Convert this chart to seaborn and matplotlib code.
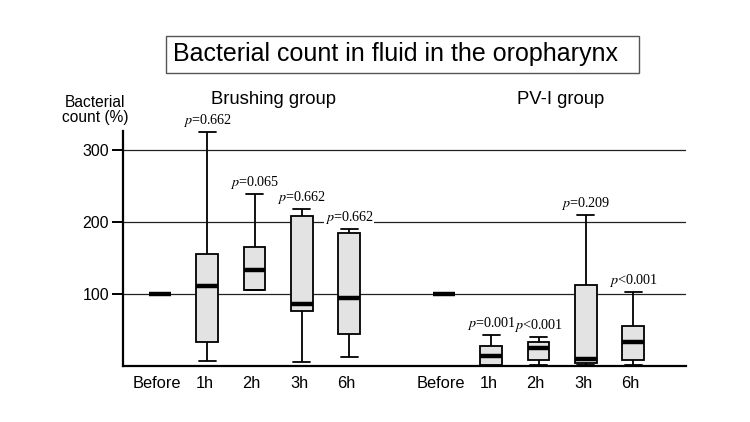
import matplotlib
matplotlib.use('Agg')
import matplotlib.pyplot as plt
from matplotlib.patches import Rectangle
import numpy as np
import pandas as pd
import seaborn as sns

# Values (five-number summaries, % of baseline)
times = ['Before', '1h', '2h', '3h', '6h']

brush_low = [100, 7, 105, 5.5, 12.5]
brush_q1 = [100, 34, 105, 76, 45]
brush_med = [100, 111.5, 133, 86, 94]
brush_q3 = [100, 155, 166, 208, 185]
brush_high = [100, 325, 239, 218, 190]
brush_p = [None, '=0.662', '=0.065', '=0.662', '=0.662']

pvi_low = [100, 0.5, 1.5, 2, 2]
pvi_q1 = [100, 1, 9, 4, 9]
pvi_med = [100, 13.5, 25.7, 10, 34]
pvi_q3 = [100, 27.5, 34, 112.6, 56]
pvi_high = [100, 43, 40, 210, 103]
pvi_p = [None, '=0.001', '<0.001', '=0.209', '<0.001']

y_ticks = [100, 200, 300]

# Build long table: five values per box give exactly these quartiles
rows = []
groups = [('Brushing', brush_low, brush_q1, brush_med, brush_q3, brush_high),
          ('PV-I', pvi_low, pvi_q1, pvi_med, pvi_q3, pvi_high)]
for name, lo, q1, med, q3, hi in groups:
    for i, t in enumerate(times):
        for v in (lo[i], q1[i], med[i], q3[i], hi[i]):
            rows.append({'slot': name + ' ' + t, 'value': v})
df = pd.DataFrame(rows)

order = ['Brushing ' + t for t in times] + [' '] + ['PV-I ' + t for t in times]
highs = brush_high + [None] + pvi_high
pvals = brush_p + [None] + pvi_p

sns.set_style('white')
plt.rcParams['font.family'] = ['Liberation Sans', 'DejaVu Sans']
plt.rcParams['mathtext.fontset'] = 'stix'
plt.rcParams['text.color'] = 'black'
plt.rcParams['xtick.color'] = 'black'
plt.rcParams['ytick.color'] = 'black'

fig = plt.figure(figsize=(7.5, 4.22), dpi=100)
ax = fig.add_axes([0.164, 0.1327, 0.751, 0.5578])

for y in y_ticks:
    ax.axhline(y, color='#222222', lw=0.9, zorder=0)

sns.boxplot(data=df, x='slot', y='value', order=order, whis=(0, 100),
            width=0.46, color='#e3e3e3', saturation=1, linecolor='black',
            linewidth=1.3, showfliers=False, capwidths=0.36,
            medianprops=dict(linewidth=3.2), ax=ax)

# p-value labels above each whisker
for i, (h, p) in enumerate(zip(highs, pvals)):
    if p is None:
        continue
    ax.annotate('$p$' + p, (i, h), xytext=(0, 2), textcoords='offset points',
                ha='center', va='bottom', fontsize=10.2, color='black',
                family=['Liberation Serif', 'DejaVu Serif'],
                bbox=dict(facecolor='white', edgecolor='none', pad=0.3),
                annotation_clip=False, zorder=5)

ax.set_xlim(-0.78, 11.12)
ax.set_ylim(0, 327)
ax.set_yticks(y_ticks)
ax.set_yticklabels([str(v) for v in y_ticks], fontsize=11.5)
ax.tick_params(axis='y', length=8, width=1.4, pad=2, left=True, colors='black')

slots = [i for i, s in enumerate(order) if s.strip()]
ax.set_xticks([s - 0.06 for s in slots])
ax.set_xticklabels(times + times, fontsize=11.8)
ax.tick_params(axis='x', length=0, pad=7, colors='black')
ax.set_xlabel('')
ax.set_ylabel('')

for s in ['top', 'right']:
    ax.spines[s].set_visible(False)
for s in ['left', 'bottom']:
    ax.spines[s].set_linewidth(1.6)
    ax.spines[s].set_color('black')

# Title box
fig.patches.append(Rectangle((0.2213, 0.827), 0.6307, 0.0877, transform=fig.transFigure,
                             facecolor='white', edgecolor='#555555', lw=1))
fig.text(0.2307, 0.871, 'Bacterial count in fluid in the oropharynx',
         ha='left', va='center', fontsize=18, color='black')

fig.text(0.365, 0.765, 'Brushing group', ha='center', va='center', fontsize=13.3, color='black')
fig.text(0.748, 0.765, 'PV-I group', ha='center', va='center', fontsize=13.3, color='black')
fig.text(0.127, 0.739, 'Bacterial\ncount (%)', ha='center', va='center',
         fontsize=11.2, linespacing=1.0, color='black')

fig.savefig('out.png', dpi=100)
